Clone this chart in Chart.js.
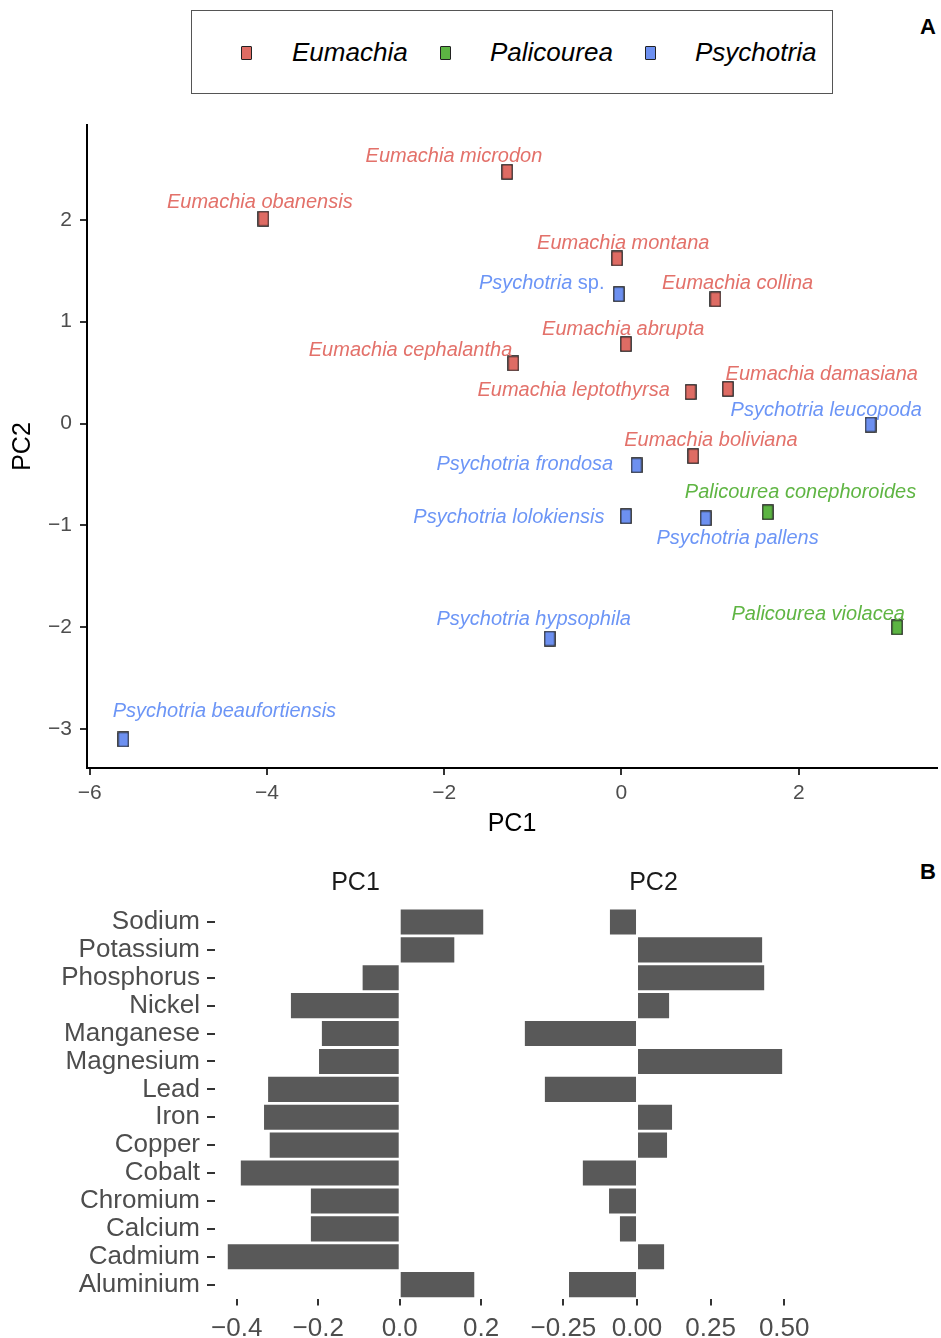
<!DOCTYPE html>
<html>
<head>
<meta charset="utf-8">
<script src="https://cdn.jsdelivr.net/npm/chart.js@4/dist/chart.umd.min.js"></script>
<style>
  body { margin: 0; background: #fff; font-family: "Liberation Sans", Arial, sans-serif; }
  #page { position: relative; width: 941px; height: 1338px; overflow: hidden; }
  canvas { position: absolute; }
  #legend { position: absolute; left: 191px; top: 10px; width: 642px; height: 84px;
            box-sizing: border-box; border: 1px solid #555; }
  .sw { position: absolute; width: 11px; height: 14px; box-sizing: border-box;
        border: 1px solid #222; border-radius: 1px; top: 35px; }
  .lt { position: absolute; top: 26px; font-style: italic; font-size: 26px; line-height: 30px; color: #000; }
  .tag { position: absolute; font-weight: bold; font-size: 22px; color: #000; }
</style>
</head>
<body>
<div id="page">
  <div id="legend"></div>
  <div class="tag" style="left:920px; top:14px;">A</div>
  <canvas id="scatter" width="941" height="750" style="left:0; top:100px;"></canvas>
  <div class="tag" style="left:920px; top:859px;">B</div>
  <canvas id="bar1" width="530" height="488" style="left:0; top:850px;"></canvas>
  <canvas id="bar2" width="441" height="488" style="left:500px; top:850px;"></canvas>
</div>
<script>
// ====== DATA ======

// PCA scores (panel A)
const genera = ["Eumachia", "Palicourea", "Psychotria"];
const species = [
  "Eumachia microdon", "Eumachia obanensis", "Eumachia montana", "Psychotria sp.",
  "Eumachia collina", "Eumachia abrupta", "Eumachia cephalantha", "Eumachia leptothyrsa",
  "Eumachia damasiana", "Psychotria leucopoda", "Eumachia boliviana", "Psychotria frondosa",
  "Palicourea conephoroides", "Psychotria lolokiensis", "Psychotria pallens",
  "Psychotria hypsophila", "Palicourea violacea", "Psychotria beaufortiensis"
];
const pc1 = [-1.29, -4.04, -0.05, -0.03, 1.06, 0.05, -1.22, 0.78, 1.20, 2.81, 0.81, 0.17, 1.65, 0.05, 0.95, -0.81, 3.11, -5.62];
const pc2 = [2.47, 2.01, 1.62, 1.27, 1.22, 0.78, 0.59, 0.31, 0.34, -0.01, -0.32, -0.41, -0.87, -0.91, -0.93, -2.11, -2.00, -3.10];

// where each name label sits (in PC units)
const labelPc1 = [-1.89, -4.08, 0.02, -0.90, 1.31, 0.02, -2.38, -0.54, 2.26, 2.31, 1.01, -1.09, 2.02, -1.27, 1.31, -0.99, 2.22, -4.48];
const labelPc2 = [2.64, 2.19, 1.79, 1.39, 1.39, 0.94, 0.74, 0.34, 0.50, 0.15, -0.15, -0.38, -0.66, -0.90, -1.11, -1.90, -1.85, -2.81];

const scoreTicksX = [-6, -4, -2, 0, 2];
const scoreTicksY = [-3, -2, -1, 0, 1, 2];

// loadings (panel B)
const elements = ["Sodium", "Potassium", "Phosphorus", "Nickel", "Manganese", "Magnesium", "Lead",
                  "Iron", "Copper", "Cobalt", "Chromium", "Calcium", "Cadmium", "Aluminium"];
const loadPc1 = [0.205, 0.134, -0.091, -0.267, -0.191, -0.198, -0.323, -0.333, -0.319, -0.390, -0.218, -0.218, -0.422, 0.183];
const loadPc2 = [-0.092, 0.425, 0.432, 0.109, -0.381, 0.493, -0.313, 0.119, 0.102, -0.184, -0.095, -0.058, 0.092, -0.231];
const loadTicks1 = [-0.4, -0.2, 0.0, 0.2];
const loadTicks2 = [-0.25, 0.00, 0.25, 0.50];

// ====== STYLE ======
const FONT = '"Liberation Sans", Arial, sans-serif';
const fillCol = { Eumachia: "#DE6C64", Palicourea: "#5CB443", Psychotria: "#6D90F0" };
const textCol = { Eumachia: "#E3716A", Palicourea: "#5FB543", Psychotria: "#6C95F6" };
const tickCol = "#4D4D4D";
const minus = v => String(v).replace("-", "\u2212");

// legend (html)
const legend = document.getElementById("legend");
const swX = [49, 248, 453], txX = [100, 298, 503];
genera.forEach((g, i) => {
  let sw = document.createElement("div");
  sw.className = "sw";
  sw.style.left = swX[i] + "px";
  sw.style.background = fillCol[g];
  legend.appendChild(sw);
  let t = document.createElement("div");
  t.className = "lt";
  t.style.left = txX[i] + "px";
  t.textContent = g;
  legend.appendChild(t);
});

// small rectangle markers, as ggplot draws them here
function marker(color) {
  let c = document.createElement("canvas");
  c.width = 12; c.height = 16;
  let x = c.getContext("2d");
  x.fillStyle = color;
  x.fillRect(1, 1, 10, 14);
  x.strokeStyle = "#1a1a1a";
  x.lineWidth = 1.2;
  x.strokeRect(0.8, 0.8, 10.4, 14.4);
  return c;
}

const genusOf = name => name.split(" ")[0];

// ====== PANEL A: scatter ======
const scatterSets = genera.map(g => ({
  label: g,
  data: species.map((s, i) => ({ x: pc1[i], y: pc2[i], g: genusOf(s) })).filter(p => p.g === g),
  pointStyle: marker(fillCol[g]),
  pointRadius: 7
}));

const nameLabels = {
  id: "nameLabels",
  afterDatasetsDraw(chart) {
    const ctx = chart.ctx, xs = chart.scales.x, ys = chart.scales.y;
    ctx.save();
    ctx.textBaseline = "middle";
    species.forEach((s, i) => {
      const px = xs.getPixelForValue(labelPc1[i]);
      const py = ys.getPixelForValue(labelPc2[i]) + 2;
      ctx.fillStyle = textCol[genusOf(s)];
      // "sp." stays upright
      let parts = s.endsWith(" sp.") ? [[s.slice(0, -4), "italic"], [" sp.", "normal"]] : [[s, "italic"]];
      let w = 0;
      parts.forEach(p => { ctx.font = p[1] + " 20px " + FONT; w += ctx.measureText(p[0]).width; });
      let x = px - w / 2;
      ctx.textAlign = "left";
      parts.forEach(p => {
        ctx.font = p[1] + " 20px " + FONT;
        ctx.fillText(p[0], x, py);
        x += ctx.measureText(p[0]).width;
      });
    });
    ctx.restore();
  }
};

new Chart(document.getElementById("scatter"), {
  type: "scatter",
  data: { datasets: scatterSets },
  options: {
    responsive: false, animation: false, devicePixelRatio: 1,
    layout: { autoPadding: false, padding: { left: 0, right: 4, top: 25, bottom: 0 } },
    plugins: { legend: { display: false }, tooltip: { enabled: false } },
    scales: {
      x: {
        min: -6.03, max: 3.56,
        afterBuildTicks: s => { s.ticks = scoreTicksX.map(v => ({ value: v })); },
        afterFit: s => { s.height = 82; },
        grid: { display: true, drawOnChartArea: false, drawTicks: true, tickLength: 7, color: "#333", lineWidth: 2 },
        border: { display: true, color: "#000", width: 2 },
        ticks: { color: tickCol, font: { family: FONT, size: 21 }, padding: 6, callback: v => minus(v) },
        title: { display: true, text: "PC1", color: "#000", font: { family: FONT, size: 25 }, padding: { bottom: 11, top: 0 } }
      },
      y: {
        min: -3.38, max: 2.93,
        afterBuildTicks: s => { s.ticks = scoreTicksY.map(v => ({ value: v })); },
        afterFit: s => { s.width = 87; },
        grid: { display: true, drawOnChartArea: false, drawTicks: true, tickLength: 7, color: "#333", lineWidth: 2 },
        border: { display: true, color: "#000", width: 2 },
        ticks: { color: tickCol, font: { family: FONT, size: 21 }, padding: 8, callback: v => minus(v) },
        title: { display: true, text: "PC2", color: "#000", font: { family: FONT, size: 25 }, padding: { top: 8, bottom: 0 } }
      }
    }
  },
  plugins: [nameLabels]
});

// ====== PANEL B: loadings ======
const stripTitle = {
  id: "stripTitle",
  afterDraw(chart, args, opts) {
    const a = chart.chartArea, ctx = chart.ctx;
    ctx.save();
    ctx.font = "25px " + FONT;
    ctx.fillStyle = "#1A1A1A";
    ctx.textAlign = "center";
    ctx.textBaseline = "middle";
    ctx.fillText(opts.text, (a.left + a.right) / 2, a.top - 25);
    ctx.restore();
  }
};

function expand(vals) {
  const lo = Math.min(...vals), hi = Math.max(...vals), e = (hi - lo) * 0.05;
  return [lo - e, hi + e];
}

function loadingChart(id, title, values, ticks, digits, showNames, padLeft, padRight) {
  const [lo, hi] = expand(values);
  return new Chart(document.getElementById(id), {
    type: "bar",
    data: {
      labels: elements,
      datasets: [{ data: values, backgroundColor: "#595959", borderWidth: 0,
                   barPercentage: 0.9, categoryPercentage: 1.0 }]
    },
    options: {
      indexAxis: "y",
      responsive: false, animation: false, devicePixelRatio: 1,
      layout: { autoPadding: false, padding: { left: padLeft, right: padRight, top: 58, bottom: 0 } },
      plugins: { legend: { display: false }, tooltip: { enabled: false }, stripTitle: { text: title } },
      scales: {
        x: {
          min: lo, max: hi,
          afterBuildTicks: s => { s.ticks = ticks.map(v => ({ value: v })); },
          afterFit: s => { s.height = 39.4; },
          grid: { display: true, drawOnChartArea: false, drawTicks: true, tickLength: 7, color: "#333", lineWidth: 2 },
          border: { display: false },
          ticks: { color: tickCol, font: { family: FONT, size: 26 }, padding: 8, callback: v => minus(v.toFixed(digits)) }
        },
        y: {
          display: showNames,
          afterFit: s => { if (showNames) s.width = 215; },
          grid: { display: true, offset: false, drawOnChartArea: false, drawTicks: true, tickLength: 8, color: "#333", lineWidth: 2 },
          border: { display: false },
          ticks: { color: tickCol, font: { family: FONT, size: 26 }, padding: 7, autoSkip: false }
        }
      }
    },
    plugins: [stripTitle]
  });
}

loadingChart("bar1", "PC1", loadPc1, loadTicks1, 1, true, 0, 34);
loadingChart("bar2", "PC2", loadPc2, loadTicks2, 2, false, 12, 146);
</script>
</body>
</html>
